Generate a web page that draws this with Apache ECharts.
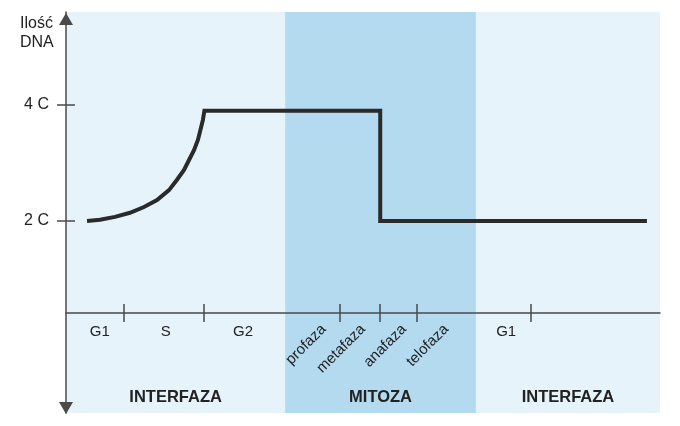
<!DOCTYPE html>
<html>
<head>
<meta charset="utf-8">
<script src="https://cdn.jsdelivr.net/npm/echarts@6/dist/echarts.min.js"></script>
<style>
  html, body { margin: 0; padding: 0; background: #fff; }
  #chart { width: 680px; height: 426px; }
</style>
</head>
<body>
<div id="chart"></div>
<script>
// DNA amount (in C) across the cell cycle; x is a time scale from 0 to 100
const dnaX = [3.54, 5.72, 8.25, 10.77, 13.13, 15.32, 17.34, 18.69, 19.87, 20.71, 21.55, 22.22, 22.64, 23.05, 23.3, 52.9, 52.9, 97.8];
const dnaY = [2, 2.02, 2.07, 2.14, 2.24, 2.36, 2.53, 2.71, 2.88, 3.05, 3.22, 3.4, 3.57, 3.74, 3.9, 3.9, 2, 2];

const phaseTicks = [9.8, 23.2, 46.1, 52.9, 59.1, 78.3];
const phaseNames = ['G1', 'S', 'G2', 'G1'];
const phasePos = [5.7, 16.8, 29.8, 74.1];
const mitosisNames = ['profaza', 'metafaza', 'anafaza', 'telofaza'];
const mitosisPos = [43.4, 50.0, 56.9, 64.0];

const stageNames = ['INTERFAZA', 'MITOZA', 'INTERFAZA'];
const stageBounds = [0, 36.9, 69.0, 100];
const stageColors = ['rgba(0,0,0,0)', '#b4daf0', 'rgba(0,0,0,0)'];

const yTicks = [2, 4];

const font = 'Liberation Sans, Arial, sans-serif';
const axisColor = '#4a4a4a';
const textColor = '#222';

function labelFor(names, positions) {
  return (value) => {
    const i = positions.findIndex((p) => Math.abs(p - value) < 1e-6);
    return i >= 0 ? names[i] : '';
  };
}

const baseX = {
  type: 'value',
  min: 0,
  max: 100,
  position: 'bottom',
  offset: -100,
  z: 10,
  splitLine: { show: false },
  axisLine: { show: false, onZero: false },
  axisTick: { show: false },
  axisLabel: { show: false },
};

const baseY = {
  type: 'value',
  min: -1.31,
  max: 5.6,
  position: 'left',
  z: 10,
  splitLine: { show: false },
  axisLine: { show: false, onZero: false },
  axisTick: { show: false },
  axisLabel: { show: false },
};

const chart = echarts.init(document.getElementById('chart'), null, { renderer: 'canvas' });

chart.setOption({
  animation: false,
  textStyle: { fontFamily: font },
  title: {
    text: 'Ilość\nDNA',
    left: 20,
    top: 14,
    padding: 0,
    textStyle: { fontFamily: font, fontSize: 16, fontWeight: 'normal', color: textColor, lineHeight: 19 },
  },
  grid: {
    left: 66,
    right: 20,
    top: 12,
    bottom: 13,
    show: true,
    backgroundColor: '#e7f3fb',
    borderWidth: 0,
  },
  xAxis: [
    {
      ...baseX,
      axisLine: { show: true, onZero: false, lineStyle: { color: axisColor, width: 1.5 } },
      axisTick: { show: true, customValues: phaseTicks, length: 9, lineStyle: { color: axisColor, width: 1.5 } },
      axisLabel: {
        show: true,
        customValues: phasePos,
        formatter: labelFor(phaseNames, phasePos),
        margin: 11,
        fontSize: 15,
        color: textColor,
      },
    },
    {
      ...baseX,
      axisTick: { show: true, inside: true, customValues: phaseTicks, length: 9, lineStyle: { color: axisColor, width: 1.5 } },
    },
    {
      ...baseX,
      axisLabel: {
        show: true,
        customValues: mitosisPos,
        formatter: labelFor(mitosisNames, mitosisPos),
        rotate: 45,
        margin: 14,
        fontSize: 15,
        color: textColor,
      },
    },
  ],
  yAxis: [
    {
      ...baseY,
      axisLine: {
        show: true,
        onZero: false,
        symbol: ['triangle', 'triangle'],
        symbolSize: [14, 12],
        symbolOffset: [5, -7],
        lineStyle: { color: axisColor, width: 1.5 },
      },
      axisTick: { show: true, customValues: yTicks, length: 9, lineStyle: { color: axisColor, width: 1.5 } },
      axisLabel: {
        show: true,
        customValues: yTicks,
        formatter: '{value} C',
        margin: 17,
        fontSize: 16,
        color: textColor,
      },
    },
    {
      ...baseY,
      axisTick: { show: true, inside: true, customValues: yTicks, length: 9, lineStyle: { color: axisColor, width: 1.5 } },
    },
  ],
  series: [
    {
      type: 'line',
      xAxisIndex: 0,
      yAxisIndex: 0,
      data: dnaX.map((x, i) => [x, dnaY[i]]),
      showSymbol: false,
      silent: true,
      lineStyle: { color: '#2a2a2a', width: 4, join: 'miter', cap: 'butt' },
      markArea: {
        silent: true,
        label: {
          show: true,
          position: 'insideBottom',
          distance: 7,
          fontWeight: 'bold',
          fontSize: 16.5,
          color: textColor,
        },
        data: stageNames.map((name, i) => [
          { name, xAxis: stageBounds[i], itemStyle: { color: stageColors[i] } },
          { xAxis: stageBounds[i + 1] },
        ]),
      },
    },
  ],
});
</script>
</body>
</html>
